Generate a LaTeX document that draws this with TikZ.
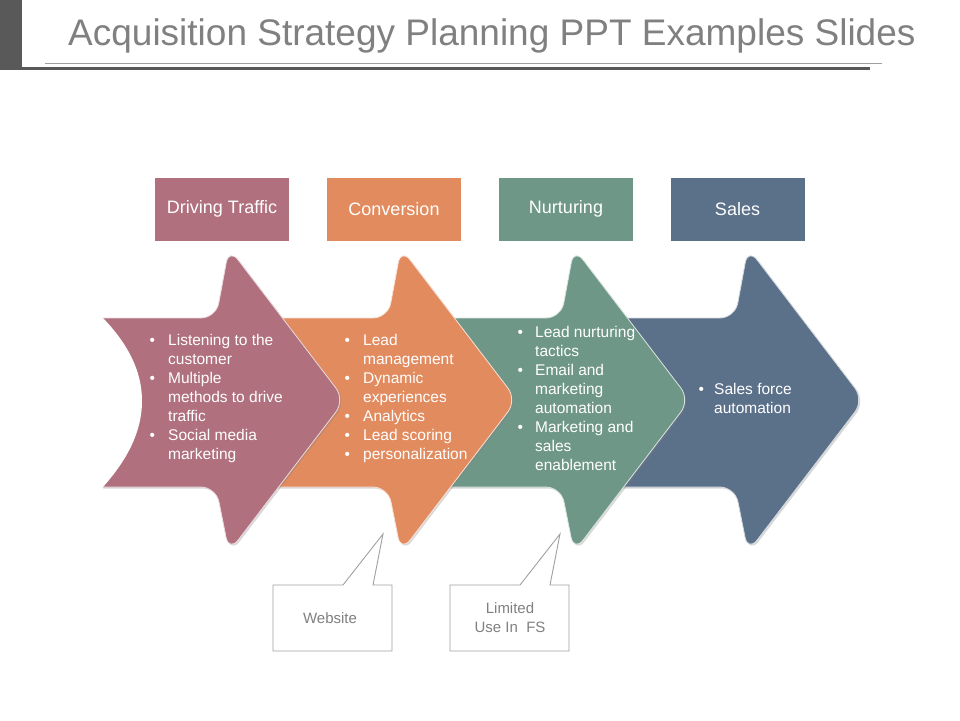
\documentclass[tikz,border=0pt]{standalone}
\usepackage{fontspec}
\setmainfont{Liberation Sans}
\usetikzlibrary{shadows}
\definecolor{cmauve}{RGB}{176,112,126}
\definecolor{corange}{RGB}{226,139,95}
\definecolor{cgreen}{RGB}{111,151,135}
\definecolor{cblue}{RGB}{91,112,137}
\definecolor{ctitle}{RGB}{128,128,128}
\definecolor{cbar}{RGB}{89,89,89}
\definecolor{cline}{RGB}{160,160,160}
\newcommand\bul[1]{\makebox[#1][l]{\textbullet}}
\newcommand\ind[1]{\hspace*{#1}}
\begin{document}
\begin{tikzpicture}[x=1pt,y=-1pt,
  arrowfill/.style={fill=#1, draw=white!75!#1, line width=0.8pt, rounded corners=15pt,
     drop shadow={shadow xshift=1.5pt, shadow yshift=-1.5pt, opacity=0.3}},
  hdr/.style={fill=#1, text=white, minimum width=134pt, minimum height=63pt, inner sep=0pt,
     font=\fontsize{18}{22}\selectfont},
  bodytext/.style={text=white, anchor=north west, inner sep=0pt, align=left,
     font=\fontsize{15.5}{19}\selectfont},
  callout/.style={draw=cline, fill=white, line width=0.9pt},
  callouttext/.style={text=ctitle, align=center, font=\fontsize{15}{19}\selectfont}
]
\useasboundingbox (0,0) rectangle (960,720);
\fill[white] (0,0) rectangle (960,720);
% title
\fill[cbar] (0,0) rectangle (22,70);
\draw[cline, line width=0.8pt] (45,63.5) -- (882,63.5);
\draw[cbar, line width=3pt] (22,68) -- (870,68);
\node[anchor=base west, inner sep=0pt, text=ctitle, font=\fontsize{37}{44}\selectfont] (title) at (68,45) {Acquisition Strategy Planning PPT Examples Slides};
% header boxes
\node[hdr=cmauve] (h1) at (222,209) {Driving Traffic};
\node[hdr=corange] (h2) at (394,209) {Conversion};
\node[hdr=cgreen] (h3) at (566,209) {Nurturing};
\node[hdr=cblue] (h4) at (737.5,209) {Sales};
% arrows (back to front)
\path[arrowfill=cblue] (560,318) -- (735,318) -- (748,248) -- (864,400) -- (748,552) -- (735,487) -- (560,487) -- cycle;
\path[arrowfill=cgreen] (390,318) -- (561,318) -- (574,248) -- (690,400) -- (574,552) -- (561,487) -- (390,487) -- cycle;
\path[arrowfill=corange] (220,318) -- (388,318) -- (401,248) -- (517,400) -- (401,552) -- (388,487) -- (220,487) -- cycle;
\path[arrowfill=cmauve] (85,318) -- (216,318) -- (229,248) -- (345,400) -- (229,552) -- (216,487) -- (85,487) -- cycle;
% notch of first arrow
\fill[white] (60,305) -- (103,305) -- (103,318) .. controls (127,343) and (142,370) .. (142,401) .. controls (142,432) and (127,460) .. (103,487) -- (103,500) -- (60,500) -- cycle;
% arrow texts
\node[bodytext] (t1) at (149.5,334) {\bul{18.5pt}Listening to the\\\ind{18.5pt}customer\\\bul{18.5pt}Multiple\\\ind{18.5pt}methods to drive\\\ind{18.5pt}traffic\\\bul{18.5pt}Social media\\\ind{18.5pt}marketing};
\node[bodytext] (t2) at (344.5,334) {\bul{18.5pt}Lead\\\ind{18.5pt}management\\\bul{18.5pt}Dynamic\\\ind{18.5pt}experiences\\\bul{18.5pt}Analytics\\\bul{18.5pt}Lead scoring\\\bul{18.5pt}personalization};
\node[bodytext] (t3) at (517.5,326) {\bul{17.5pt}Lead nurturing\\\ind{17.5pt}tactics\\\bul{17.5pt}Email and\\\ind{17.5pt}marketing\\\ind{17.5pt}automation\\\bul{17.5pt}Marketing and\\\ind{17.5pt}sales\\\ind{17.5pt}enablement};
\node[bodytext] (t4) at (698.5,383) {\bul{15.5pt}Sales force\\\ind{15.5pt}automation};
% callouts
\path[callout] (273,585) -- (343,585) -- (383,534) -- (373,585) -- (392,585) -- (392,651) -- (273,651) -- cycle;
\node[callouttext] (c1) at (330,618) {Website};
\path[callout] (450,585) -- (520,585) -- (560,534) -- (550,585) -- (569,585) -- (569,651) -- (450,651) -- cycle;
\node[callouttext] (c2) at (510,618) {Limited\\Use In~ FS};
\end{tikzpicture}
\end{document}
